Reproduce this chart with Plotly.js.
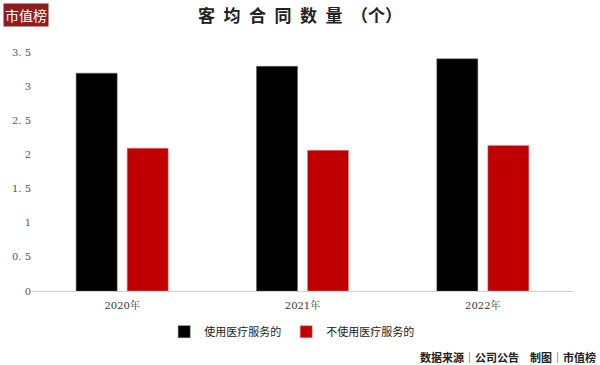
<!DOCTYPE html>
<html>
<head>
<meta charset="utf-8">
<script src="https://cdn.plot.ly/plotly-3.0.1.min.js"></script>
<style>html,body{margin:0;padding:0;background:#fff;}#chart{width:600px;height:365px;}</style>
</head>
<body>
<div id="chart"></div>
<script>
const categories = ["2020年", "2021年", "2022年"];
const seriesNames = ["使用医疗服务的", "不使用医疗服务的"];
const usedValues = [3.19, 3.29, 3.40];
const notUsedValues = [2.09, 2.06, 2.13];
const yTickVals = [0, 0.5, 1, 1.5, 2, 2.5, 3, 3.5];
const yTickText = ["0", "0. 5", "1", "1. 5", "2", "2. 5", "3", "3. 5"];

const cjk = '"Noto Sans CJK SC", "DejaVu Sans", sans-serif';
const serif = '"DejaVu Serif", "Noto Serif CJK SC", "Noto Sans CJK SC", serif';

const traces = [
  {type: 'bar', name: seriesNames[0], x: categories, y: usedValues,
   marker: {color: '#000000', line: {color: '#666', width: 0.5}}},
  {type: 'bar', name: seriesNames[1], x: categories, y: notUsedValues,
   marker: {color: '#c00000', line: {color: '#e88', width: 0.5}}}
];

const sp = '\u2002';
const layout = {
  width: 600, height: 365,
  margin: {l: 32, r: 27, t: 52, b: 74},
  paper_bgcolor: '#fff', plot_bgcolor: '#fff',
  barmode: 'group', bargap: 0.434, bargroupgap: 0.196,
  showlegend: true,
  legend: {orientation: 'h', x: 0.48, xanchor: 'center', y: -0.17, yanchor: 'middle',
           font: {family: cjk, size: 11, color: '#222'}, itemwidth: 30, traceorder: 'normal'},
  title: {text: '<b>' + ['客','均','合','同','数','量'].join(sp) + sp + '（个）</b>', x: 0.5, xanchor: 'center', y: 0.955, yanchor: 'middle',
          font: {family: cjk, size: 17, color: '#222'}},
  xaxis: {showgrid: false, showline: true, linecolor: '#d0d0d0', linewidth: 1,
          ticks: 'outside', ticklen: 5, tickcolor: 'rgba(0,0,0,0)',
          tickfont: {family: serif, size: 10, color: '#333'}, zeroline: false},
  yaxis: {range: [0, 3.5], showgrid: false, showline: false, zeroline: false,
          tickvals: yTickVals, ticktext: yTickText, ticks: '',
          tickfont: {family: serif, size: 10, color: '#555'}},
  annotations: [
    {xref: 'paper', yref: 'paper', x: -0.054, y: 1.155, xanchor: 'left', yanchor: 'middle',
     text: '市值榜', showarrow: false, bgcolor: '#8f1d1f', borderpad: 1,
     font: {family: cjk, size: 14, color: '#fff'}},
    {xref: 'paper', yref: 'paper', x: 1.047, y: -0.276, xanchor: 'right', yanchor: 'middle',
     text: '<b>数据来源</b>│<b>公司公告</b>　<b>制图</b>│<b>市值榜</b>', showarrow: false,
     font: {family: cjk, size: 11, color: '#222'}}
  ]
};

Plotly.newPlot('chart', traces, layout, {displayModeBar: false, staticPlot: true});
</script>
</body>
</html>
